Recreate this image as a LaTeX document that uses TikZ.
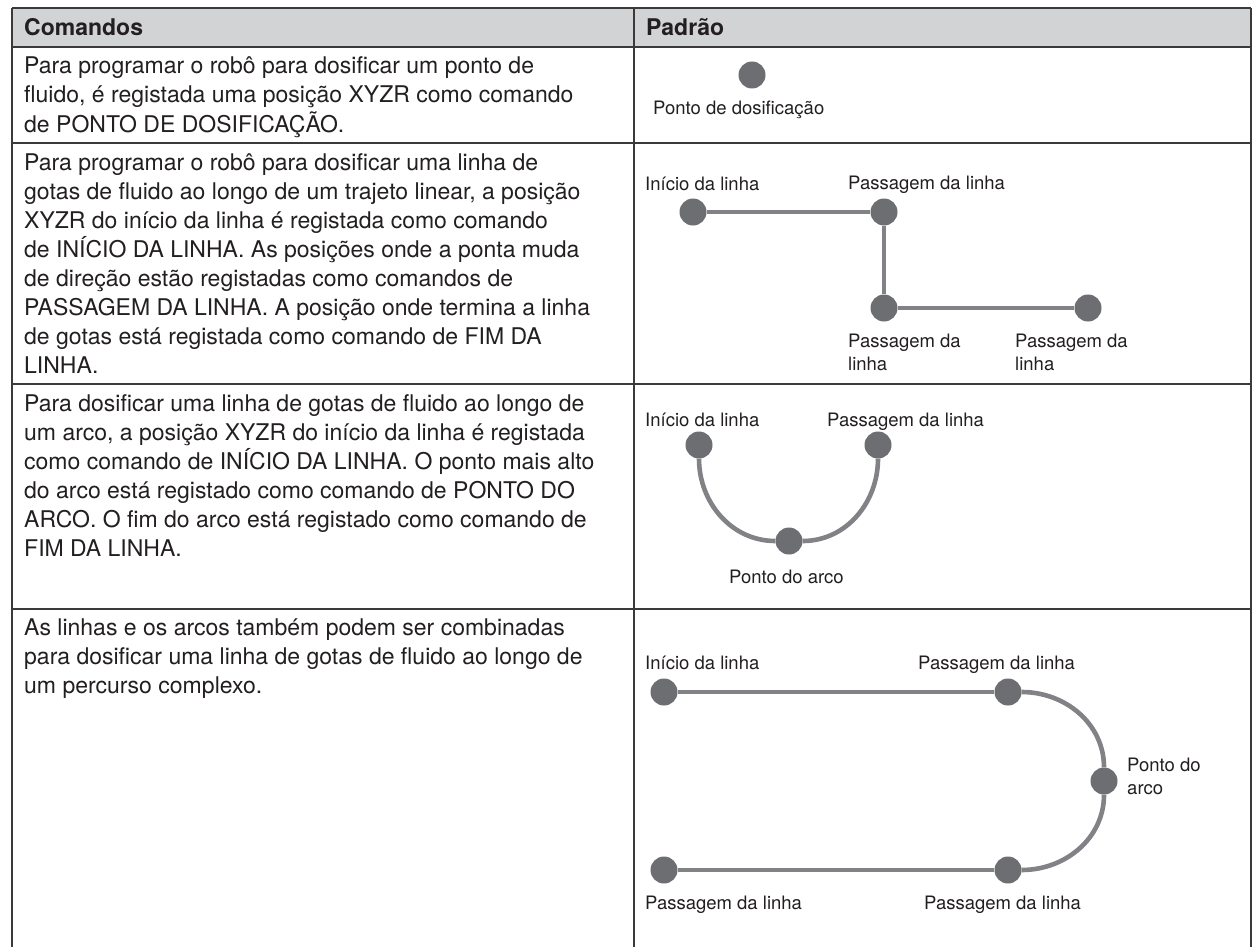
\documentclass[tikz,border=0pt]{standalone}
\usepackage{fontspec}
\setmainfont{TeX Gyre Heros}
\definecolor{gridc}{HTML}{3A3A3A}
\definecolor{hdrfill}{HTML}{D1D3D4}
\definecolor{dotc}{HTML}{6D6E71}
\definecolor{linec}{HTML}{808285}
\definecolor{txt}{HTML}{231F20}
\newcommand\mlines[1]{\begin{tabular}[t]{@{}l@{}}#1\end{tabular}}
\begin{document}
\begin{tikzpicture}[x=1pt,y=-1pt,
  gridline/.style={draw=gridc, line width=1.6pt},
  dot/.style={circle, fill=dotc, minimum size=27pt, inner sep=0pt},
  conn/.style={draw=linec, line width=4.6pt},
  lbl/.style={font=\fontsize{18.5}{23}\selectfont, anchor=base west, inner sep=0pt, text=txt},
  body/.style={font=\fontsize{23}{29}\selectfont, anchor=base west, inner sep=0pt, text=txt},
  hdr/.style={font=\fontsize{23}{29}\selectfont\bfseries, anchor=base west, inner sep=0pt, text=txt}]
\useasboundingbox (0,0) rectangle (1252,947);
\fill[white] (0,0) rectangle (1252,947);
% header
\fill[hdrfill] (12,8) rectangle (1251,47);
\draw[gridline] (12,8) -- (1251,8);
\draw[gridline] (12,47) -- (1251,47);
\draw[gridline] (12,143) -- (1251,143);
\draw[gridline] (12,384) -- (1251,384);
\draw[gridline] (12,609) -- (1251,609);
\draw[gridline] (12,8) -- (12,960);
\draw[gridline] (634,8) -- (634,960);
\draw[gridline] (1251,8) -- (1251,960);
\node[hdr] (h1) at (24,36) {Comandos};
\node[hdr] (h2) at (646,36) {Padrão};
% column 1 texts
\node[body] (t1) at (24,74) {\mlines{Para programar o robô para dosificar um ponto de\\
fluido, é registada uma posição XYZR como comando\\
de PONTO DE DOSIFICAÇÃO.}};
\node[body] (t2) at (24,170) {\mlines{Para programar o robô para dosificar uma linha de\\
gotas de fluido ao longo de um trajeto linear, a posição\\
XYZR do início da linha é registada como comando\\
de INÍCIO DA LINHA. As posições onde a ponta muda\\
de direção estão registadas como comandos de\\
PASSAGEM DA LINHA. A posição onde termina a linha\\
de gotas está registada como comando de FIM DA\\
LINHA.}};
\node[body] (t3) at (24,411) {\mlines{Para dosificar uma linha de gotas de fluido ao longo de\\
um arco, a posição XYZR do início da linha é registada\\
como comando de INÍCIO DA LINHA. O ponto mais alto\\
do arco está registado como comando de PONTO DO\\
ARCO. O fim do arco está registado como comando de\\
FIM DA LINHA.}};
\node[body] (t4) at (24,635) {\mlines{As linhas e os arcos também podem ser combinadas\\
para dosificar uma linha de gotas de fluido ao longo de\\
um percurso complexo.}};
% row 1 diagram
\node[dot] (d1) at (752,75) {};
\node[lbl] (l1) at (653,115) {Ponto de dosificação};
% row 2 diagram
\node[dot] (a1) at (693,212) {};
\node[dot] (a2) at (884,212) {};
\node[dot] (a3) at (884,308) {};
\node[dot] (a4) at (1088,308) {};
\draw[conn] (a1) -- (a2);
\draw[conn] (a2) -- (a3);
\draw[conn] (a3) -- (a4);
\node[lbl] (la1) at (645,190) {Início da linha};
\node[lbl] (la2) at (848,189) {Passagem da linha};
\node[lbl] (la3) at (848,347) {\mlines{Passagem da\\linha}};
\node[lbl] (la4) at (1015,347) {\mlines{Passagem da\\linha}};
% row 3 diagram
\node[dot] (b1) at (699,445) {};
\node[dot] (b2) at (789,541) {};
\node[dot] (b3) at (878,445) {};
\draw[conn] (b1) to[out=-90,in=180,looseness=1] (b2);
\draw[conn] (b2) to[out=0,in=-90,looseness=1] (b3);
\node[lbl] (lb1) at (645,426) {Início da linha};
\node[lbl] (lb2) at (827,426) {Passagem da linha};
\node[lbl] (lb3) at (729,583) {Ponto do arco};
% row 4 diagram
\node[dot] (c1) at (664,692) {};
\node[dot] (c2) at (1008,692) {};
\node[dot] (c3) at (1104,781) {};
\node[dot] (c4) at (1008,870) {};
\node[dot] (c5) at (664,870) {};
\draw[conn] (c1) -- (c2);
\draw[conn] (c2) to[out=0,in=90,looseness=1] (c3);
\draw[conn] (c3) to[out=-90,in=0,looseness=1] (c4);
\draw[conn] (c4) -- (c5);
\node[lbl] (lc1) at (645,669) {Início da linha};
\node[lbl] (lc2) at (918,669) {Passagem da linha};
\node[lbl] (lc3) at (1127,771) {\mlines{Ponto do\\arco}};
\node[lbl] (lc4) at (645,909) {Passagem da linha};
\node[lbl] (lc5) at (924,909) {Passagem da linha};
\end{tikzpicture}
\end{document}
